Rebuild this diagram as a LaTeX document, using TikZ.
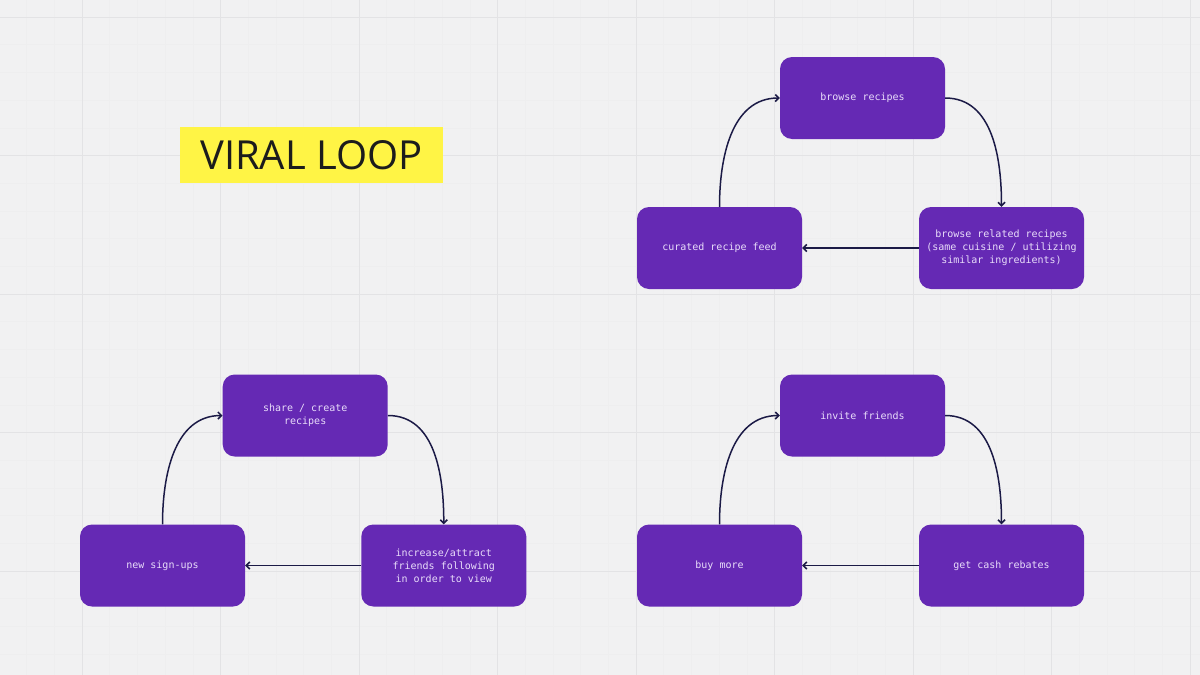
\documentclass[tikz,border=0pt]{standalone}
\usepackage{fontspec}
\setmonofont{DejaVu Sans Mono}
\newfontfamily\titlefont{Open Sans}
\usetikzlibrary{arrows.meta}
\definecolor{bgc}{HTML}{F1F1F2}
\definecolor{gridmaj}{HTML}{E3E3E5}
\definecolor{gridmin}{HTML}{EEEEEF}
\definecolor{boxpurple}{HTML}{6529B4}
\definecolor{boxtext}{HTML}{E9DDFA}
\definecolor{arrowc}{HTML}{1B1A46}
\definecolor{titleyellow}{HTML}{FFF445}
\definecolor{titletext}{HTML}{1C1C1C}
\tikzset{
  stepbox/.style={rectangle, rounded corners=12pt, fill=boxpurple, draw=none,
    minimum width=165pt, minimum height=82pt, inner sep=0pt,
    text=boxtext, align=center,
    font=\ttfamily\fontsize{10pt}{13pt}\selectfont},
  flow/.style={draw=arrowc, line width=1.5pt, -{Straight Barb[length=3.5pt,width=7pt]}},
  titlebox/.style={rectangle, fill=titleyellow, minimum width=263pt, minimum height=56pt,
    inner sep=0pt, text=titletext, font=\titlefont\fontsize{40pt}{44pt}\selectfont}
}
\begin{document}
\begin{tikzpicture}[x=1pt,y=1pt]
\useasboundingbox (0,0) rectangle (1200,-675);
\fill[bgc] (0,0) rectangle (1200,-675);
% minor grid
\foreach \i in {0,...,44} {
  \draw[gridmin, line width=0.6pt] ({82-2*27.7+\i*27.7},0) -- ({82-2*27.7+\i*27.7},-675);
}
\foreach \i in {0,...,25} {
  \draw[gridmin, line width=0.6pt] (0,{-(17+\i*27.7)}) -- (1200,{-(17+\i*27.7)});
}
% major grid
\foreach \i in {0,...,8} {
  \draw[gridmaj, line width=0.9pt] ({82+\i*138.5},0) -- ({82+\i*138.5},-675);
}
\foreach \i in {0,...,4} {
  \draw[gridmaj, line width=0.9pt] (0,{-(17+\i*138.5)}) -- (1200,{-(17+\i*138.5)});
}
% title
\node[titlebox] (title) at (311.5,-155.3) {VIRAL LOOP};
% top-right loop
\node[stepbox] (br) at (862.5,-98) {browse recipes};
\node[stepbox] (cf) at (719.5,-248) {curated recipe feed};
\node[stepbox] (rr) at (1001.5,-248) {browse related recipes\\(same cuisine / utilizing\\similar ingredients)};
\draw[flow] (br.east) to[out=0,in=90] (rr.north);
\draw[flow] (rr.west) -- (cf.east);
\draw[flow] (cf.north) to[out=90,in=180] (br.west);
% bottom-left loop
\node[stepbox] (sh) at (305.2,-415.5) {share / create\\recipes};
\node[stepbox] (su) at (162.5,-565.5) {new sign-ups};
\node[stepbox] (inc) at (443.8,-565.5) {increase/attract\\friends following\\in order to view};
\draw[flow] (sh.east) to[out=0,in=90] (inc.north);
\draw[flow] (inc.west) -- (su.east);
\draw[flow] (su.north) to[out=90,in=180] (sh.west);
% bottom-right loop
\node[stepbox] (inv) at (862.5,-415.5) {invite friends};
\node[stepbox] (buy) at (719.5,-565.5) {buy more};
\node[stepbox] (cash) at (1001.5,-565.5) {get cash rebates};
\draw[flow] (inv.east) to[out=0,in=90] (cash.north);
\draw[flow] (cash.west) -- (buy.east);
\draw[flow] (buy.north) to[out=90,in=180] (inv.west);
\end{tikzpicture}
\end{document}
